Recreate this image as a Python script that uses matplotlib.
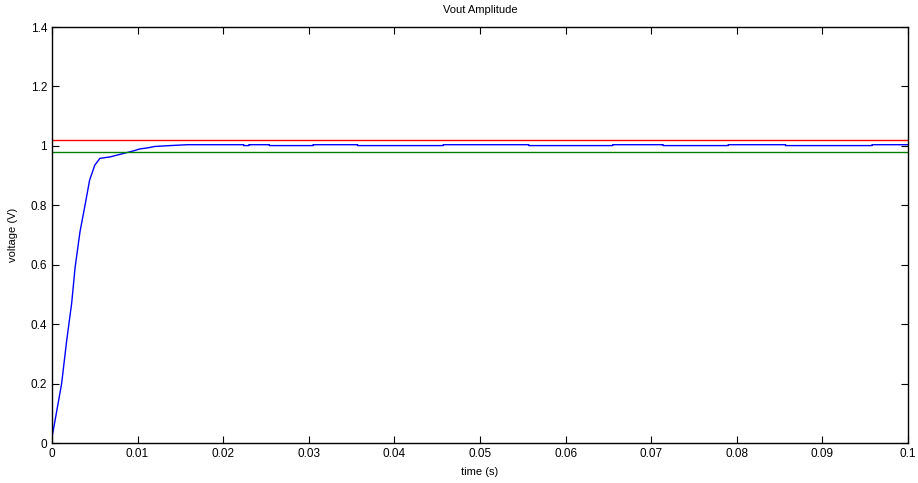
import numpy as np
import matplotlib
matplotlib.use("Agg")
import matplotlib.pyplot as plt

# rise of the amplitude
t_rise = [0.0, 0.0001, 0.00113, 0.0017, 0.0023, 0.0027, 0.00327, 0.00386, 0.0044,
          0.0050, 0.0056, 0.0068, 0.0095, 0.0103, 0.0111, 0.0120, 0.0138, 0.0158]
v_rise = [0.02, 0.034, 0.20, 0.34, 0.47, 0.59, 0.71, 0.80, 0.885,
          0.935, 0.958, 0.963, 0.983, 0.990, 0.993, 0.998, 1.001, 1.004]

# settled part: step edges and levels
t_steps = [0.0158, 0.0224, 0.0230, 0.0254, 0.0305, 0.0357, 0.0457, 0.0557,
           0.0655, 0.0714, 0.0790, 0.0857, 0.0958, 0.1]
v_steps = [1.004, 1.001, 1.004, 1.001, 1.004, 1.001, 1.004, 1.001,
           1.004, 1.001, 1.004, 1.001, 1.004, 1.004]

upper_limit = 1.02
lower_limit = 0.98

t = list(t_rise)
v = list(v_rise)
for i in range(1, len(t_steps)):
    t += [t_steps[i], t_steps[i]]
    v += [v_steps[i - 1], v_steps[i]]

plt.rcParams['font.family'] = ['Liberation Sans', 'DejaVu Sans']
fig = plt.figure(figsize=(9.18, 4.83), dpi=100)
ax = fig.add_axes([0.0566, 0.0828, 0.9325, 0.8612])

ax.plot(t, v, color='b', linewidth=1)
ax.axhline(upper_limit, color='r', linewidth=1)
ax.axhline(lower_limit, color='g', linewidth=1)

ax.set_xlim(0, 0.1)
ax.set_ylim(0, 1.4)
ax.set_xticks(np.arange(0, 0.1001, 0.01))
ax.set_xticklabels(['0', '0.01', '0.02', '0.03', '0.04', '0.05', '0.06', '0.07', '0.08', '0.09', '0.1'])
ax.set_yticks(np.arange(0, 1.401, 0.2))
ax.set_yticklabels(['0', '0.2', '0.4', '0.6', '0.8', '1', '1.2', '1.4'])
ax.tick_params(direction='in', top=True, right=True, length=5, labelsize=8.5, width=0.8)
for s in ax.spines.values():
    s.set_linewidth(1)

ax.set_xlabel("time (s)", fontsize=8, labelpad=5)
ax.set_ylabel("voltage (V)", fontsize=8, labelpad=9)
ax.set_title("Vout Amplitude", fontsize=8, pad=10)

fig.savefig("out.png", dpi=100)
